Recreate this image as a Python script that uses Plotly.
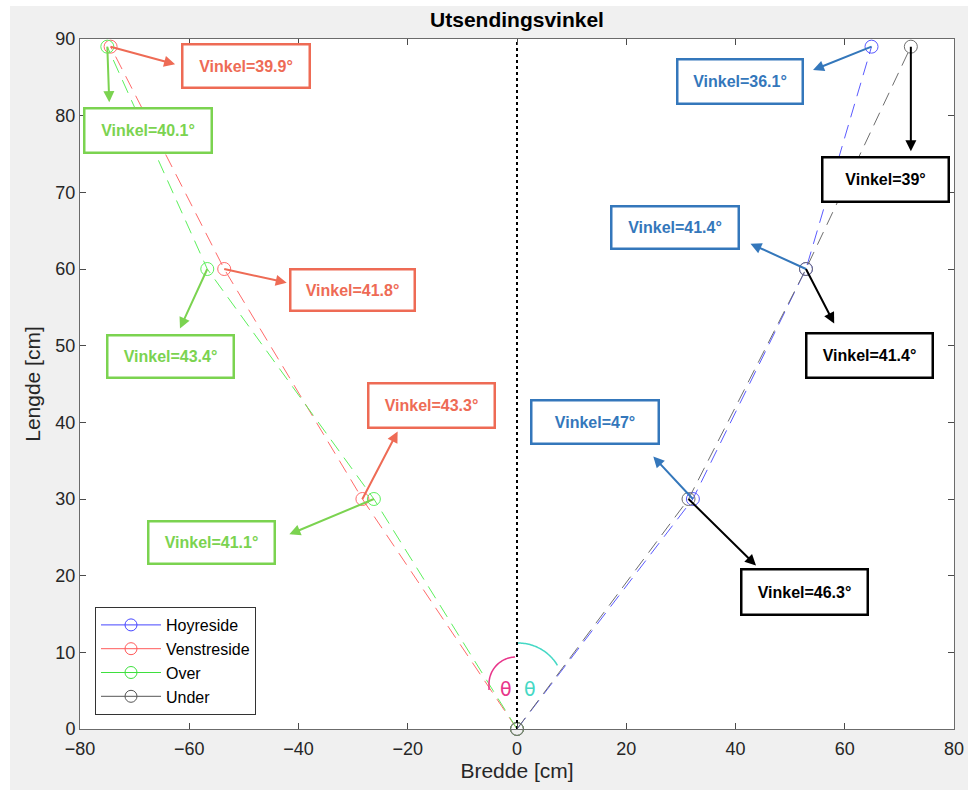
import numpy as np
import plotly.graph_objects as go

# ---------------- data ----------------
lengde = [0, 30, 60, 89]                     # y values [cm]
hoyre_x = [0, 32.2, 52.9, 64.9]
venstre_x = [0, -28.3, -53.6, -74.4]
over_x = [0, -26.2, -56.7, -75.0]
under_x = [0, 31.4, 52.9, 72.1]

hoyre_vinkel = [47, 41.4, 36.1]
venstre_vinkel = [43.3, 41.8, 39.9]
over_vinkel = [41.1, 43.4, 40.1]
under_vinkel = [46.3, 41.4, 39]

series_names = ["Hoyreside", "Venstreside", "Over", "Under"]
series_x = [hoyre_x, venstre_x, over_x, under_x]
series_vinkel = [hoyre_vinkel, venstre_vinkel, over_vinkel, under_vinkel]

# ---------------- styles ----------------
line_colors = ["#5a5aff", "#ff6a6a", "#5cf05c", "#6e6e6e"]
legend_colors = ["#4646ff", "#ff5a5a", "#3ee03e", "#555555"]
label_colors = ["#3477bb", "#ee6b55", "#7bd350", "#000000"]

# label layout: (arrow head dx, dy, box center dx, dy, box w, h) in pixels from point
label_layout = {
    "Hoyreside": [(-41, -44, -98, -77, 130, 46), (-57, -26, -131, -42, 130, 45), (-60, 24, -132, 35, 128, 47)],
    "Venstreside": [(36, -69, 69, -94, 129, 47), (64, 14, 128, 21, 127, 44), (66, 18, 135, 19, 130, 46)],
    "Over": [(-86, 36, -162, 43, 129, 45), (-28, 61, -37, 87, 129, 45), (2, 57, 41, 84, 130, 47)],
    "Under": [(69, 68, 116, 93, 129, 48), (29, 56, 64, 86, 129, 47), (0, 106, -25, 133, 129, 47)],
}

FONT = "Liberation Sans, Arial, Helvetica, sans-serif"

fig = go.Figure()

# data lines (dashed)
for name, xs, lc in zip(series_names, series_x, line_colors):
    fig.add_trace(go.Scatter(
        x=xs, y=lengde, mode="lines+markers", name=name, showlegend=False,
        line=dict(color=lc, width=1, dash="14px,8px"),
        marker=dict(symbol="circle-open", size=13, color=lc, line=dict(width=1, color=lc)),
        cliponaxis=False,
    ))

# legend entries (solid)
for name, lc in zip(series_names, legend_colors):
    fig.add_trace(go.Scatter(
        x=[None], y=[None], mode="lines+markers", name=name,
        line=dict(color=lc, width=1),
        marker=dict(symbol="circle-open", size=12, color=lc, line=dict(width=1, color=lc)),
    ))

# dotted vertical reference line
fig.add_trace(go.Scatter(x=[0, 0], y=[0, 90], mode="lines", showlegend=False,
                         line=dict(color="black", width=2, dash="dot")))

annotations = []
for name, xs, vs, col in zip(series_names, series_x, series_vinkel, label_colors):
    for i, v in enumerate(vs):
        px, py = xs[i + 1], lengde[i + 1]
        hdx, hdy, bdx, bdy, bw, bh = label_layout[name][i]
        # arrow from point to box
        annotations.append(dict(
            x=px, y=py, xref="x", yref="y", ax=hdx, ay=hdy, axref="pixel", ayref="pixel",
            text="", showarrow=True, arrowside="start", startarrowhead=2, startarrowsize=1.1,
            arrowwidth=2, arrowcolor=col, standoff=0, startstandoff=0,
        ))
        # text box
        annotations.append(dict(
            x=px, y=py, xref="x", yref="y", xshift=bdx, yshift=-bdy,
            text=f"<b>Vinkel={v:g}°</b>", showarrow=False,
            font=dict(family=FONT, size=16, color=col),
            bordercolor=col, borderwidth=2.5, borderpad=0,
            bgcolor="white", width=bw - 5, height=bh - 5,
            xanchor="center", yanchor="middle", align="center", valign="middle",
        ))

# theta labels
annotations.append(dict(x=0, y=5.2, xref="x", yref="y", xshift=-11, text="θ", showarrow=False,
                        font=dict(family="DejaVu Sans, sans-serif", size=19, color="#e8358a")))
annotations.append(dict(x=0, y=5.2, xref="x", yref="y", xshift=13, text="θ", showarrow=False,
                        font=dict(family="DejaVu Sans, sans-serif", size=19, color="#45d8c5")))

# arcs (decorative) built in pixel units, converted to data units
sx = 874 / 160.0
sy = 690 / 90.0
def arc(cx_px, cy_px, r, a0, a1):
    t = np.radians(np.linspace(a0, a1, 40))
    xs = cx_px + r * np.cos(t)
    ys = cy_px - r * np.sin(t)
    dx = (xs - 80) / sx - 80
    dy = (729 - ys) / sy
    return "M " + " L ".join(f"{a:.4f},{b:.4f}" for a, b in zip(dx, dy))

shapes = [
    dict(type="path", path=arc(516, 684, 27, 92, 180) + f" L {(489-80)/sx-80:.4f},{(729-690)/sy:.4f}",
         xref="x", yref="y", line=dict(color="#e8358a", width=1.5)),
    dict(type="path", path=arc(518, 689, 46, 90, 31),
         xref="x", yref="y", line=dict(color="#45d8c5", width=1.5)),
    # white strips outside the grey figure panel
    dict(type="rect", xref="paper", yref="paper", x0=-0.1, x1=(10 - 80) / 874, y0=-0.2, y1=1.2,
         fillcolor="white", line=dict(width=0), layer="below"),
    dict(type="rect", xref="paper", yref="paper", x0=-0.1, x1=1.1, y0=(729 - 6) / 690, y1=1.2,
         fillcolor="white", line=dict(width=0), layer="below"),
]

axis_common = dict(
    showgrid=False, zeroline=False, showline=True, linecolor="#6b6b6b", linewidth=1,
    mirror="ticks", ticks="inside", ticklen=6, tickcolor="#4a4a4a", automargin=False,
    tickfont=dict(family=FONT, size=18, color="#262626"),
)

fig.update_layout(
    width=968, height=790,
    margin=dict(l=80, r=14, t=39, b=61),
    paper_bgcolor="#f0f0f0", plot_bgcolor="white",
    title=dict(text="<b>Utsendingsvinkel</b>", x=517 / 968, xanchor="center", y=0.975, yanchor="middle",
               font=dict(family=FONT, size=21, color="#000000")),
    xaxis=dict(range=[-80, 80], tickvals=list(range(-80, 81, 20)), ticklabelstandoff=3,
               title=dict(text="Bredde [cm]", font=dict(family=FONT, size=21, color="#262626"), standoff=5),
               **axis_common),
    yaxis=dict(range=[0, 90], tickvals=list(range(0, 91, 10)),
               title=dict(text="Lengde [cm]", font=dict(family=FONT, size=21, color="#262626"), standoff=9),
               **axis_common),
    legend=dict(x=(95 - 80) / 874, y=(729 - 607) / 690, xanchor="left", yanchor="top",
                bgcolor="white", bordercolor="#333333", borderwidth=1, itemwidth=60,
                font=dict(family=FONT, size=16, color="#000000"), tracegroupgap=0),
    annotations=annotations,
    shapes=shapes,
)

fig.write_html("out.html")
